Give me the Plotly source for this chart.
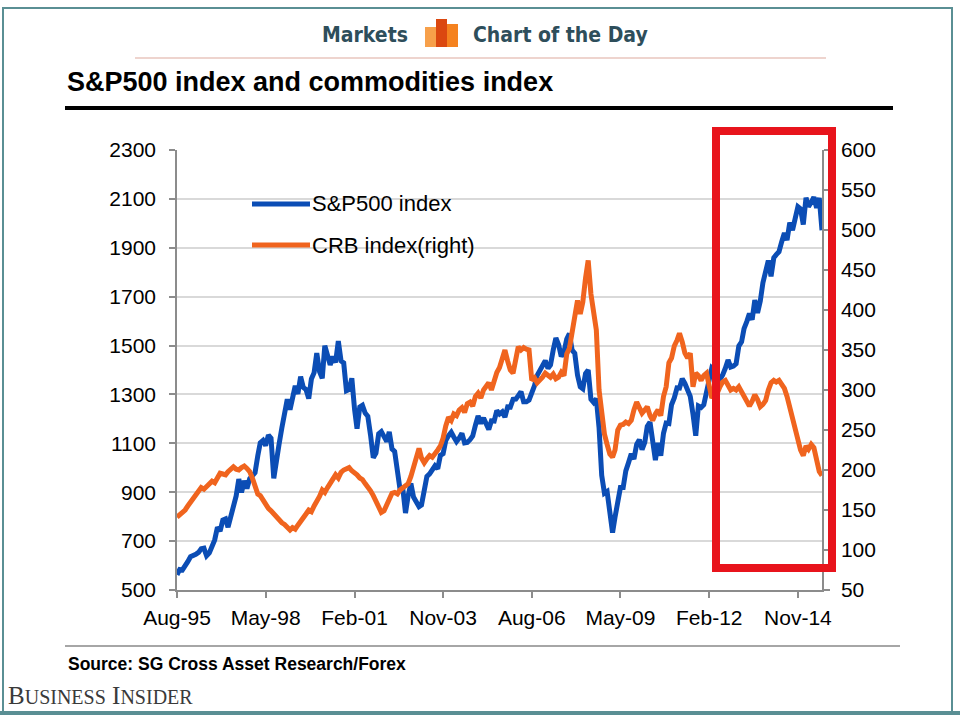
import plotly.graph_objects as go
import pandas as pd

# ---------------- data (monthly, Aug-1995 .. Aug-2015) ----------------
start_month = "1995-08-01"

sp500 = [
    562, 584, 582, 605, 616,
    636, 640, 646, 654, 669, 671, 640, 652, 687, 705, 757, 741,
    786, 791, 757, 801, 848, 885, 954, 899, 947, 915, 955, 970,
    980, 1049, 1102, 1112, 1091, 1134, 1121, 957, 1017, 1099, 1164, 1229,
    1280, 1238, 1286, 1335, 1302, 1373, 1329, 1320, 1283, 1363, 1389, 1469,
    1394, 1366, 1499, 1452, 1421, 1455, 1431, 1518, 1437, 1429, 1315, 1320,
    1366, 1240, 1160, 1249, 1256, 1224, 1211, 1134, 1041, 1060, 1139, 1148,
    1130, 1107, 1147, 1077, 1067, 990, 912, 916, 815, 886, 936, 880,
    856, 841, 848, 917, 964, 975, 990, 1008, 996, 1051, 1058, 1112,
    1131, 1145, 1126, 1107, 1121, 1141, 1102, 1104, 1115, 1130, 1174, 1212,
    1181, 1204, 1181, 1157, 1192, 1191, 1234, 1220, 1229, 1207, 1249, 1248,
    1280, 1281, 1295, 1311, 1270, 1270, 1277, 1304, 1336, 1378, 1401, 1418,
    1438, 1407, 1421, 1482, 1531, 1503, 1455, 1474, 1527, 1549, 1481, 1468,
    1379, 1331, 1323, 1386, 1400, 1280, 1267, 1283, 1165, 969, 896, 903,
    826, 735, 798, 873, 919, 919, 987, 1021, 1057, 1036, 1096, 1115,
    1074, 1104, 1169, 1187, 1089, 1031, 1102, 1049, 1141, 1183, 1181, 1258,
    1286, 1327, 1326, 1364, 1345, 1321, 1292, 1219, 1131, 1253, 1247, 1258,
    1312, 1366, 1408, 1398, 1310, 1362, 1379, 1407, 1441, 1412, 1416, 1426,
    1498, 1515, 1569, 1598, 1631, 1606, 1686, 1633, 1682, 1757, 1806, 1848,
    1783, 1859, 1872, 1884, 1924, 1960, 1931, 2003, 1972, 2018, 2068, 2059,
    1995, 2105, 2068, 2086, 2107, 2063, 2104, 1972,
]

crb = [
    141, 144, 147, 150, 155, 160, 166, 170, 175, 178,
    176, 179, 182, 186, 184, 189, 196, 195, 194, 198,
    201, 204, 201, 200, 203, 205, 202, 198, 190, 178,
    170, 168, 162, 158, 152, 149, 145, 141, 137, 134,
    132, 128, 125, 128, 126, 131, 135, 140, 145, 150,
    148, 155, 160, 167, 175, 172, 178, 183, 188, 194,
    190, 197, 200, 202, 203, 199, 197, 194, 190, 188,
    183, 177, 174, 168, 160, 152, 147, 149, 158, 166,
    171, 172, 170, 175, 178, 180, 183, 192, 205, 218,
    227, 215, 209, 214, 218, 216, 222, 225, 230, 240,
    255, 266, 262, 270, 268, 275, 278, 272, 283, 285,
    280, 292, 296, 290, 300, 305, 309, 300, 312, 322,
    328, 340, 350, 336, 325, 321, 340, 354, 350, 353,
    351, 350, 312, 315, 309, 312, 316, 321, 318, 316,
    320, 314, 316, 322, 318, 345, 352, 370, 395, 412,
    395, 410, 440, 462, 420, 396, 375, 300, 270, 245,
    232, 220, 216, 225, 250, 256, 257, 260, 258, 262,
    275, 285, 278, 271, 275, 279, 268, 262, 270, 275,
    268, 292, 304, 334, 340, 355, 362, 371, 360, 346,
    340, 346, 304, 321, 318, 312, 318, 321, 305, 290,
    294, 296, 304, 310, 312, 305, 300, 302, 300, 304,
    298, 291, 285, 280, 286, 294, 288, 279, 282, 287,
    300, 309, 312, 310, 312, 306, 302, 292, 279, 265,
    250, 235, 225, 218, 230, 226, 232, 228, 210, 198,
    193,
]

tick_dates = ["1995-08-01", "1998-05-01", "2001-02-01", "2003-11-01",
              "2006-08-01", "2009-05-01", "2012-02-01", "2014-11-01"]
tick_labels = ["Aug-95", "May-98", "Feb-01", "Nov-03",
               "Aug-06", "May-09", "Feb-12", "Nov-14"]

series_names = ["S&P500 index", "CRB index(right)"]
title_text = "S&P500 index and commodities index"
source_text = "Source: SG Cross Asset Research/Forex"

months = pd.date_range(start_month, periods=len(sp500), freq="MS")

# ---------------- geometry helpers (pixel -> paper) ----------------
W, H = 960, 720
PL, PR, PT, PB = 177, 822, 150, 590


def px(x):
    return (x - PL) / (PR - PL)


def py(y):
    return (PB - y) / (PB - PT)


BLUE = "#0b4db5"
ORANGE = "#f0641e"
FONT = "Liberation Sans, Arial, sans-serif"

fig = go.Figure()
fig.add_trace(go.Scatter(x=months, y=sp500, name=series_names[0], mode="lines",
                         line=dict(color=BLUE, width=5), yaxis="y", showlegend=False))
fig.add_trace(go.Scatter(x=months, y=crb, name=series_names[1], mode="lines",
                         line=dict(color=ORANGE, width=5), yaxis="y2", showlegend=False))

axis_grey = "#8c8c8c"
tickfont = dict(size=21, family=FONT, color="black")
fig.update_layout(
    width=W, height=H,
    margin=dict(l=PL, r=W - PR, t=PT, b=H - PB, pad=0),
    paper_bgcolor="white", plot_bgcolor="white",
    font=dict(family=FONT, color="black"),
    xaxis=dict(type="date", range=[months[0], months[-1]],
               tickvals=tick_dates, ticktext=tick_labels,
               ticks="outside", ticklen=6, tickcolor=axis_grey, tickwidth=1.5,
               showline=True, linecolor=axis_grey, linewidth=1.5,
               showgrid=False, zeroline=False, ticklabelstandoff=2,
               tickfont=tickfont),
    yaxis=dict(range=[500, 2300], tick0=500, dtick=200,
               ticks="outside", ticklen=6, tickcolor=axis_grey, tickwidth=1.5,
               showline=True, linecolor=axis_grey, linewidth=1.5,
               showgrid=True, gridcolor="#d9d9d9", gridwidth=1.5, zeroline=False,
               ticklabelstandoff=9, tickfont=tickfont),
    yaxis2=dict(range=[50, 600], tick0=50, dtick=50, overlaying="y", side="right",
                ticks="outside", ticklen=6, tickcolor=axis_grey, tickwidth=1.5,
                showline=True, linecolor=axis_grey, linewidth=1.5,
                showgrid=False, zeroline=False, ticklabelstandoff=7,
                tickfont=tickfont),
)

shapes = []
annotations = []

# outer frame
shapes.append(dict(type="rect", xref="paper", yref="paper", layer="below",
                   x0=px(3), x1=px(952), y0=py(712), y1=py(8),
                   line=dict(color="#5a8f94", width=2)))
shapes.append(dict(type="line", xref="paper", yref="paper",
                   x0=px(0), x1=px(960), y0=py(713), y1=py(713),
                   line=dict(color="#5a8f94", width=4)))

# header
shapes.append(dict(type="line", xref="paper", yref="paper",
                   x0=px(135), x1=px(826), y0=py(58), y1=py(58),
                   line=dict(color="#eed4ce", width=2)))
for (x0, x1, y0, col) in [(425, 437, 27, "#f7a04a"), (446, 458, 24, "#f5821f"),
                          (436, 447, 19, "#db4810")]:
    shapes.append(dict(type="rect", xref="paper", yref="paper",
                       x0=px(x0), x1=px(x1), y0=py(47), y1=py(y0),
                       line=dict(width=0), fillcolor=col))
header_font = dict(family="DejaVu Sans Condensed, Roboto, sans-serif", size=21, color="#2e4e5b")
annotations.append(dict(text="<b>Markets</b>", xref="paper", yref="paper",
                        x=px(410), y=py(35), xanchor="right", yanchor="middle",
                        showarrow=False, font=header_font))
annotations.append(dict(text="<b>Chart of the Day</b>", xref="paper", yref="paper",
                        x=px(471), y=py(35), xanchor="left", yanchor="middle",
                        showarrow=False, font=header_font))

# title + rule
annotations.append(dict(text="<b>" + title_text + "</b>", xref="paper", yref="paper",
                        x=px(65), y=py(82), xanchor="left", yanchor="middle",
                        showarrow=False, font=dict(family=FONT, size=27, color="black")))
shapes.append(dict(type="line", xref="paper", yref="paper",
                   x0=px(65), x1=px(893), y0=py(108), y1=py(108),
                   line=dict(color="black", width=4)))

# custom legend
for i, (yy, col) in enumerate([(204, BLUE), (245, ORANGE)]):
    shapes.append(dict(type="line", xref="paper", yref="paper",
                       x0=px(252), x1=px(310), y0=py(yy), y1=py(yy),
                       line=dict(color=col, width=5)))
    annotations.append(dict(text=series_names[i], xref="paper", yref="paper",
                            x=px(310), y=py(yy), xanchor="left", yanchor="middle",
                            showarrow=False, font=dict(family=FONT, size=22, color="black")))

# red highlight box
shapes.append(dict(type="rect", xref="paper", yref="paper",
                   x0=px(716), x1=px(832), y0=py(568), y1=py(131),
                   line=dict(color="#e8141c", width=8)))

# source rule + text
shapes.append(dict(type="line", xref="paper", yref="paper",
                   x0=px(65), x1=px(900), y0=py(646), y1=py(646),
                   line=dict(color="#a6a6a6", width=2)))
annotations.append(dict(text="<b>" + source_text + "</b>", xref="paper", yref="paper",
                        x=px(66), y=py(664), xanchor="left", yanchor="middle",
                        showarrow=False, font=dict(family=FONT, size=17.5, color="black")))

# Business Insider logo text
bi = ("B<span style='font-size:20px'>USINESS</span> "
      "I<span style='font-size:20px'>NSIDER</span>")
annotations.append(dict(text=bi, xref="paper", yref="paper",
                        x=px(6), y=py(695), xanchor="left", yanchor="middle",
                        showarrow=False,
                        font=dict(family="Liberation Serif, DejaVu Serif, serif", size=25, color="#3a3a3a")))

fig.update_layout(shapes=shapes, annotations=annotations)

fig.write_html("out.html", config={"displayModeBar": False},
               post_script="document.body.style.margin='0px';document.body.style.padding='0px';")
